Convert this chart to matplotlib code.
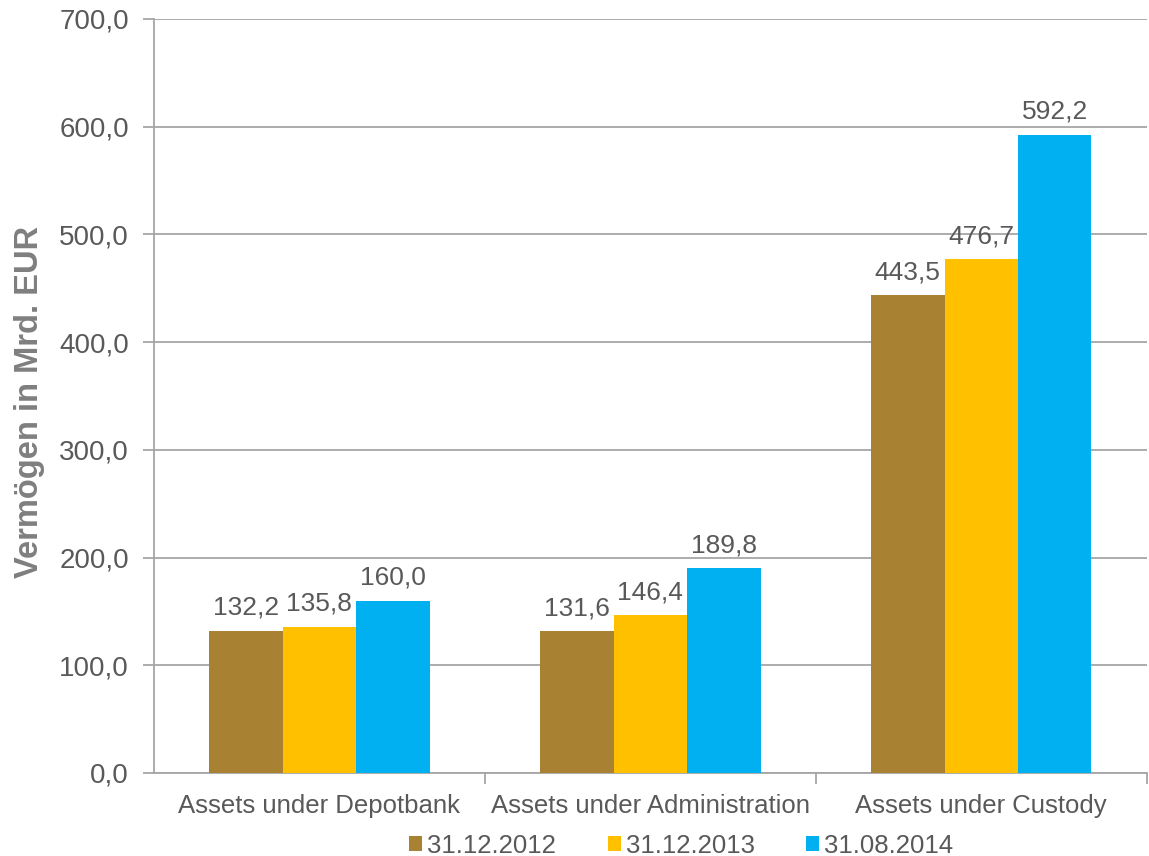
import matplotlib.pyplot as plt
import numpy as np

plt.rcParams['font.family'] = ['Liberation Sans', 'DejaVu Sans']

categories = ['Assets under Depotbank', 'Assets under Administration', 'Assets under Custody']
series_names = ['31.12.2012', '31.12.2013', '31.08.2014']
values_2012 = [132.2, 131.6, 443.5]
values_2013 = [135.8, 146.4, 476.7]
values_2014 = [160.0, 189.8, 592.2]
colors = ['#A88132', '#FFC000', '#00B0F0']

text_color = '#595959'
line_color = '#A6A6A6'

fig = plt.figure(figsize=(11.49, 8.56), dpi=100)
ax = fig.add_axes([0.134, 0.097, 0.864, 0.881])

x = np.arange(len(categories))
width = 0.222
all_series = [values_2012, values_2013, values_2014]
for i, (vals, name, col) in enumerate(zip(all_series, series_names, colors)):
    bars = ax.bar(x + (i - 1) * width, vals, width, color=col, label=name, zorder=3)
    labels = [f'{v:.1f}'.replace('.', ',') for v in vals]
    ax.bar_label(bars, labels=labels, padding=8, fontsize=19, color=text_color)

ax.set_xlim(-0.5, 2.5)
ax.set_ylim(0, 700)
ax.set_yticks(np.arange(0, 701, 100))
ax.set_yticklabels([f'{v:.1f}'.replace('.', ',') for v in np.arange(0, 701, 100)])
ax.yaxis.grid(True, color=line_color, linewidth=1.3, zorder=0)

ax.set_xticks(x)
ax.set_xticklabels(categories)
ax.set_xticks([0.5, 1.5, 2.5], minor=True)
ax.tick_params(axis='x', which='major', length=0, pad=15, labelsize=18.5, labelcolor=text_color)
ax.tick_params(axis='x', which='minor', length=8, width=1.3, color=line_color, direction='out')
ax.tick_params(axis='y', length=8, width=1.3, color=line_color, pad=10, labelsize=20, labelcolor=text_color)

for s in ['top', 'right']:
    ax.spines[s].set_visible(False)
for s in ['left', 'bottom']:
    ax.spines[s].set_color(line_color)
    ax.spines[s].set_linewidth(1.3)

ax.set_ylabel('Vermögen in Mrd. EUR', fontsize=23.5, fontweight='bold', color='#7F7F7F')
ax.yaxis.set_label_coords(-0.11, 0.492)

fig.legend(loc='center', bbox_to_anchor=(0.593, 0.012), ncol=3, frameon=False,
           fontsize=18.5, labelcolor=text_color, handlelength=0.5, handleheight=0.5,
           handletextpad=0.2, columnspacing=2.0, borderaxespad=0)

fig.savefig('out.png', dpi=100)
